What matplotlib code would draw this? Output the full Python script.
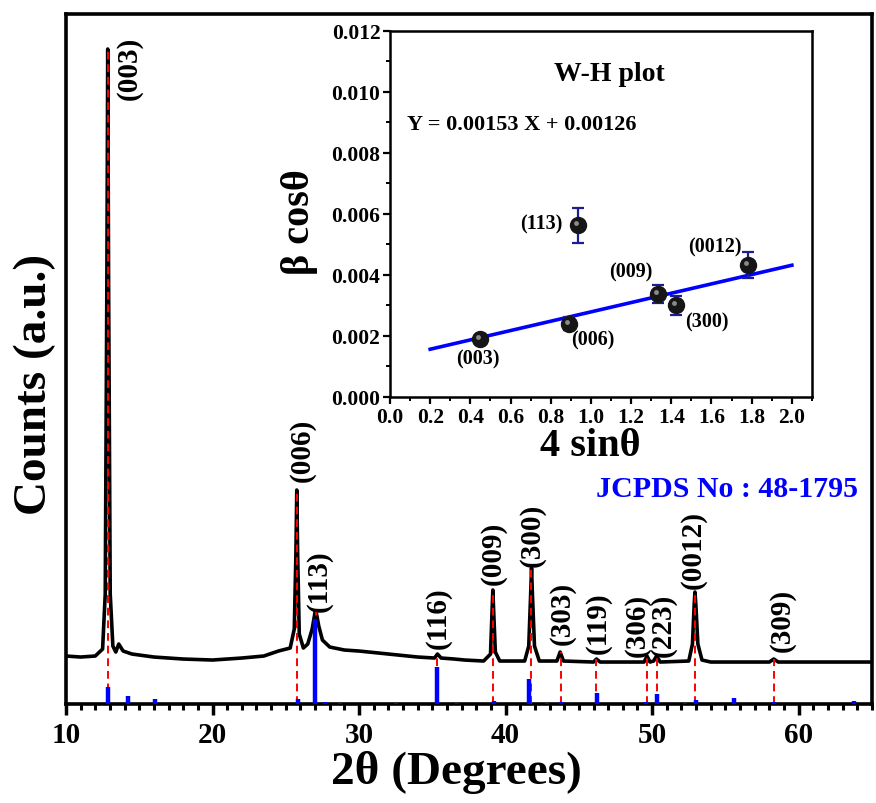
import matplotlib
matplotlib.use("Agg")
import matplotlib.pyplot as plt
import matplotlib.transforms as mtransforms
from matplotlib.ticker import MultipleLocator, NullLocator

plt.rcParams['font.family'] = ['Liberation Serif', 'DejaVu Serif']
plt.rcParams['font.weight'] = 'bold'

# XRD trace (2theta, counts a.u.)
two_theta = [10, 11, 12, 12.5, 12.68, 12.79, 12.85, 12.91, 13.02, 13.2, 13.4, 13.6, 13.9,
             14.5, 16, 18, 20, 22, 23.5, 24.5, 25.3, 25.58, 25.69, 25.75, 25.81, 25.92, 26.2,
             26.5, 26.8, 27.0, 27.1, 27.25, 27.5, 28, 29, 30, 32, 34, 35.15, 35.35, 35.6,
             36.5, 37.2, 38.5, 38.97, 39.08, 39.13, 39.18, 39.3, 39.6, 41.3, 41.58, 41.71,
             41.77, 41.83, 41.97, 42.3, 43.5, 43.72, 43.95, 46.0, 46.2, 46.45, 49.45, 49.65,
             49.85, 50.1, 50.3, 50.55, 52.5, 52.75, 52.87, 52.92, 52.98, 53.12, 53.4, 54, 58.0,
             58.3, 58.6, 65]
counts = [48, 47, 48, 55, 110, 420, 655, 420, 110, 58, 52, 60, 53,
          50, 47, 45, 44, 46, 48, 53, 56, 75, 150, 214, 150, 70, 56,
          60, 75, 92, 90, 78, 64, 57, 54, 53, 50, 47, 46, 50, 46,
          45, 44, 43, 50, 95, 114, 95, 52, 43, 43, 58, 110,
          136, 110, 58, 43, 43, 52, 43, 42, 45, 42, 42, 48,
          42, 43, 48, 42, 43, 60, 100, 112, 100, 60, 44, 42, 42,
          45, 42, 42]

# JCPDS 48-1795 reference lines
ref_pos = [12.85, 14.25, 16.1, 25.8, 27.0, 27.7, 28.7, 32.5, 35.3, 36.7, 39.2, 41.6, 42.8,
           43.75, 46.25, 49.6, 50.3, 52.25, 53.0, 55.6, 58.3, 63.8]
ref_int = [17, 8, 5, 5, 85, 2, 1.5, 1, 37, 1, 3, 25, 1, 2, 11, 2, 10, 1, 4, 6, 2, 3]

# indexed peaks
hkl = ['(003)', '(006)', '(113)', '(116)', '(009)', '(300)', '(303)', '(119)', '(306)',
       '(223)', '(0012)', '(309)']
peak_pos = [12.85, 25.75, 27.05, 35.35, 39.15, 41.75, 43.75, 46.2, 49.65, 50.3, 52.95, 58.3]
peak_top = [655, 214, 92, 49, 114, 136, 52, 45, 48, 48, 112, 45]
label_x = [14.35, 26.09, 27.31, 35.4, 39.15, 41.8, 43.85, 46.33, 48.98, 50.78, 52.8, 58.9]
label_y = [605, 223, 93, 56, 120, 138, 60, 51, 48, 48, 116, 53]

# W-H plot data
wh_x = [0.448, 0.893, 0.938, 1.336, 1.425, 1.781]
wh_y = [0.0019, 0.0024, 0.00563, 0.00337, 0.0030, 0.00433]
wh_err = [0.00012, 0.00022, 0.00057, 0.0003, 0.0003, 0.00043]
wh_lab = ['(003)', '(006)', '(113)', '(009)', '(300)', '(0012)']
wh_lab_x = [0.438, 1.011, 0.752, 1.200, 1.578, 1.618]
wh_lab_y = [0.00125, 0.00190, 0.00570, 0.00410, 0.00249, 0.00492]
slope, intercept = 0.00153, 0.00126
fit_x = [0.2, 2.0]

fig = plt.figure(figsize=(8.76, 8.04), dpi=100)
ax = fig.add_axes([0.0753, 0.1231, 0.9201, 0.8582])

ax.plot(two_theta, counts, color='black', lw=2.6, zorder=3)
ax.vlines(peak_pos, 0, peak_top, colors='red', linestyles=(0, (4, 2.5)), lw=1.4, zorder=4)
ax.vlines(ref_pos, 0, ref_int, colors='blue', lw=3.2, zorder=5)
for t, x, y in zip(hkl, label_x, label_y):
    ax.text(x, y, t, rotation=90, ha='center', va='bottom', fontsize=21, fontweight='bold')
ax.text(0.983, 0.312, 'JCPDS No : 48-1795', transform=ax.transAxes, color='blue',
        fontsize=21.5, fontweight='bold', ha='right', va='center')

ax.set_xlim(10, 65)
ax.set_ylim(0, 690)
ax.xaxis.set_major_locator(MultipleLocator(10))
ax.xaxis.set_minor_locator(MultipleLocator(1))
ax.yaxis.set_major_locator(NullLocator())
ax.tick_params(axis='x', which='major', direction='out', length=8, width=2.5,
               labelsize=21, pad=4)
ax.tick_params(axis='x', which='minor', direction='out', length=4.5, width=2.2)
for s in ax.spines.values():
    s.set_linewidth(2.6)
ax.set_xlabel('2θ (Degrees)', fontsize=34, fontweight='bold')
ax.set_ylabel('Counts (a.u.)', fontsize=34, fontweight='bold')
ax.xaxis.set_label_coords(0.484, -0.066)
ax.yaxis.set_label_coords(-0.0125, 0.465)

# inset W-H plot
ins = fig.add_axes([0.4452, 0.505, 0.4817, 0.4552])
fy = [slope * v + intercept for v in fit_x]
ins.plot(fit_x, fy, color='blue', lw=2.6, zorder=2)
ins.errorbar(wh_x, wh_y, yerr=wh_err, fmt='none', ecolor='#1c1c96', elinewidth=1.6,
             capsize=4, capthick=1.6, zorder=3)
ins.plot(wh_x, wh_y, 'o', color='#161616', ms=11.5, zorder=4)
hl = mtransforms.offset_copy(ins.transData, fig=fig, x=-1.5, y=1.5, units='points')
ins.plot(wh_x, wh_y, 'o', color='#8a8a8a', ms=3.5, mew=0, transform=hl, zorder=5)
for t, x, y in zip(wh_lab, wh_lab_x, wh_lab_y):
    ins.text(x, y, t, ha='center', va='center', fontsize=14.5, fontweight='bold')
ins.text(0.519, 0.885, 'W-H plot', transform=ins.transAxes, ha='center', va='center',
         fontsize=20, fontweight='bold')
ins.text(0.04, 0.745, 'Y = 0.00153 X + 0.00126', transform=ins.transAxes, ha='left',
         va='center', fontsize=16, fontweight='bold')
ins.set_xlim(0, 2.1)
ins.set_ylim(0, 0.012)
ins.xaxis.set_major_locator(MultipleLocator(0.2))
ins.xaxis.set_minor_locator(MultipleLocator(0.1))
ins.yaxis.set_major_locator(MultipleLocator(0.002))
ins.yaxis.set_minor_locator(MultipleLocator(0.001))
ins.xaxis.set_major_formatter(plt.FuncFormatter(lambda v, p: f'{v:.1f}'))
ins.yaxis.set_major_formatter(plt.FuncFormatter(lambda v, p: f'{v:.3f}'))
ins.tick_params(which='major', direction='out', length=5, width=1.6, labelsize=15.5, pad=2)
ins.tick_params(which='minor', direction='out', length=3, width=1.4)
for s in ins.spines.values():
    s.set_linewidth(1.8)
ins.set_xlabel('4 sinθ', fontsize=29, fontweight='bold')
ins.set_ylabel('β cosθ', fontsize=29, fontweight='bold')
ins.xaxis.set_label_coords(0.474, -0.082)
ins.yaxis.set_label_coords(-0.17, 0.48)

fig.savefig('out.png', dpi=100)
